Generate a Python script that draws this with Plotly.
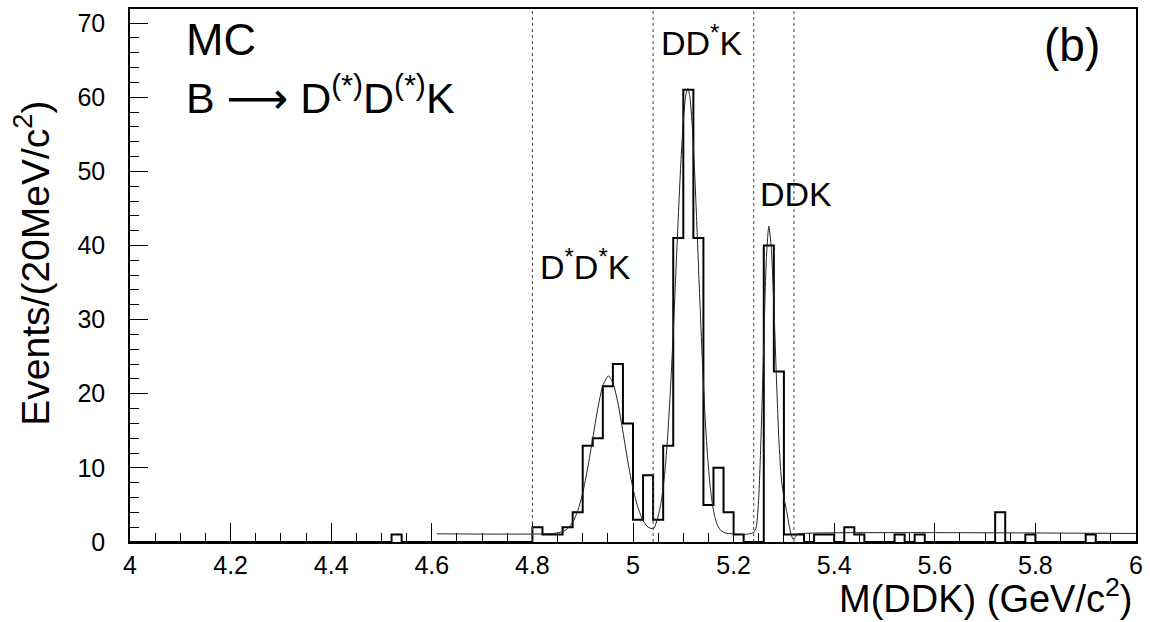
import numpy as np
import plotly.graph_objects as go

# ---------------- data ----------------
# 20 MeV bins from 4.0 to 6.0 GeV; non-empty bins given by lower edge
bin_low = [4.52, 4.80, 4.82, 4.84, 4.86, 4.88, 4.90, 4.92, 4.94, 4.96, 4.98,
           5.00, 5.02, 5.04, 5.06, 5.08, 5.10, 5.12, 5.14, 5.16, 5.18, 5.20,
           5.26, 5.28, 5.30, 5.32, 5.36, 5.38, 5.42, 5.44, 5.52, 5.56,
           5.72, 5.78, 5.90]
bin_count = [1, 2, 1, 1, 2, 4, 13, 14, 21, 24, 16,
             3, 9, 3, 13, 41, 61, 41, 5, 10, 4, 1,
             40, 23, 1, 1, 1, 1, 2, 1, 1, 1,
             4, 1, 1]

# fitted curve, points
fit_x = [4.61, 4.84, 4.86, 4.87, 4.88, 4.89, 4.90, 4.91, 4.92, 4.93, 4.94,
         4.951, 4.96, 4.97, 4.98, 4.99, 5.00, 5.01, 5.02, 5.03, 5.041, 5.05,
         5.055, 5.06, 5.065, 5.07, 5.075, 5.08, 5.085, 5.09, 5.095, 5.10,
         5.105, 5.109, 5.113, 5.118, 5.123, 5.128, 5.133, 5.138, 5.143,
         5.148, 5.153, 5.158, 5.163, 5.168, 5.175, 5.185, 5.195, 5.21, 5.22,
         5.23, 5.24, 5.245, 5.25, 5.255, 5.26, 5.265, 5.27, 5.275, 5.28,
         5.285, 5.29, 5.295, 5.30, 5.305, 5.31, 5.314, 5.318, 5.322, 5.326,
         5.33, 6.0]
fit_y = [1.1, 1.14, 1.39, 1.8, 2.65, 4.17, 6.6, 10.0, 14.0, 18.0, 21.1,
         22.4, 21.5, 18.75, 14.86, 10.76, 7.2, 4.6, 2.9, 2.0, 1.8, 3.5,
         5.0, 7.3, 10.7, 15.4, 21.3, 28.2, 36.0, 43.8, 51.0, 56.8,
         60.3, 61.2, 60.1, 55.9, 49.2, 41.0, 32.4, 24.3, 17.3,
         11.8, 7.8, 5.05, 3.3, 2.26, 1.53, 1.19, 1.12, 1.05, 1.0,
         1.1, 1.3, 2.0, 6.0, 15.0, 27.0, 38.0, 42.6, 39.6, 32.0,
         22.4, 13.8, 8.5, 6.0, 4.3, 2.4, 1.1, 0.4, 0.55, 1.0,
         1.12, 1.15]

cut_lines = [4.80, 5.04, 5.24, 5.32]

# ---------------- build histogram outline ----------------
x_min, x_max, bw = 4.0, 6.0, 0.02
edges = np.round(np.arange(x_min, x_max + 1e-9, bw), 2)
counts = np.zeros(len(edges) - 1)
for lo, c in zip(bin_low, bin_count):
    counts[int(round((lo - x_min) / bw))] = c
step_y = np.append(counts, counts[-1])

FONT = "Liberation Sans, Arial, DejaVu Sans, sans-serif"

fig = go.Figure()
fig.add_trace(go.Scatter(x=edges, y=step_y, mode="lines",
                         line=dict(shape="hv", color="black", width=2),
                         showlegend=False, hoverinfo="skip"))
fig.add_trace(go.Scatter(x=fit_x, y=fit_y, mode="lines",
                         line=dict(shape="spline", smoothing=0.6,
                                   color="#222222", width=1),
                         showlegend=False, hoverinfo="skip"))

for xc in cut_lines:
    fig.add_shape(type="line", xref="x", yref="paper", x0=xc, x1=xc,
                  y0=0, y1=1, line=dict(color="#444444", width=1, dash="dot"))

ann = [
    dict(text="MC", x=4.107, y=67.8, xanchor="left", size=45),
    dict(text="B \u27F6 D<sup>(*)</sup>D<sup>(*)</sup>K", x=4.107, y=60.3,
         xanchor="left", size=43),
    dict(text="DD<sup>*</sup>K", x=5.136, y=67.6, xanchor="center", size=34),
    dict(text="DDK", x=5.325, y=46.9, xanchor="center", size=34),
    dict(text="D<sup>*</sup>D<sup>*</sup>K", x=4.906, y=37.4,
         xanchor="center", size=34),
    dict(text="(b)", x=5.872, y=67.0, xanchor="center", size=46),
]
for a in ann:
    fig.add_annotation(text=a["text"], x=a["x"], y=a["y"], xref="x", yref="y",
                       xanchor=a["xanchor"], yanchor="middle", showarrow=False,
                       font=dict(family=FONT, size=a["size"], color="black"))

fig.add_annotation(text="Events/(20MeV/c<sup>2</sup>)", xref="paper",
                   yref="paper", x=-0.098, y=0.523, textangle=-90,
                   xanchor="center", yanchor="middle", showarrow=False,
                   font=dict(family=FONT, size=39, color="black"))
fig.add_annotation(text="M(DDK) (GeV/c<sup>2</sup>)", xref="paper",
                   yref="paper", x=0.998, y=-0.101, xanchor="right",
                   yanchor="middle", showarrow=False,
                   font=dict(family=FONT, size=38, color="black"))

axis_common = dict(showgrid=False, zeroline=False, showline=True, mirror=True,
                   linecolor="black", linewidth=1.5, ticks="inside",
                   tickcolor="black", tickwidth=1,
                   tickfont=dict(family=FONT, size=25, color="black"))

fig.update_layout(
    width=1150, height=622,
    margin=dict(l=130, r=13, t=7, b=80),
    paper_bgcolor="white", plot_bgcolor="white",
    xaxis=dict(range=[4, 6], tick0=4, dtick=0.2, ticklen=19,
               minor=dict(dtick=0.05, ticklen=9, ticks="inside",
                          tickcolor="black", tickwidth=1),
               ticklabelstandoff=0, **axis_common),
    yaxis=dict(range=[0, 71.9], tick0=0, dtick=10, ticklen=18,
               minor=dict(dtick=2, ticklen=9, ticks="inside",
                          tickcolor="black", tickwidth=1),
               ticklabelstandoff=18, **axis_common),
)

fig.write_html("out.html")
